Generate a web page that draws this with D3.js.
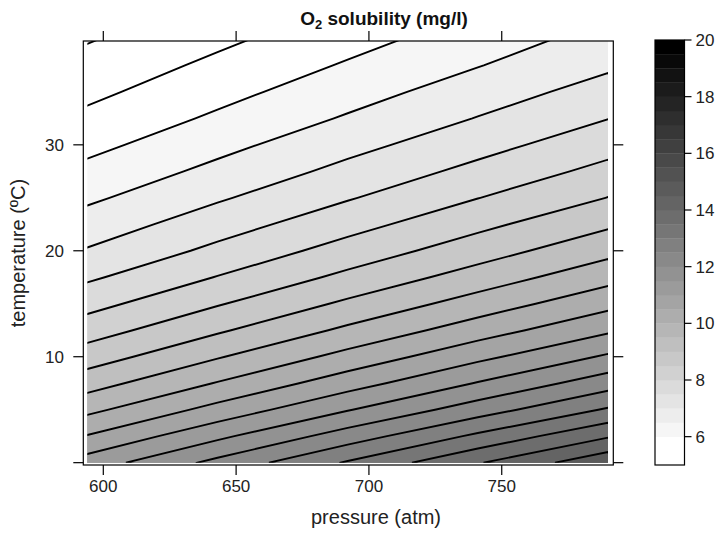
<!DOCTYPE html>
<html><head><meta charset="utf-8">
<script src="https://cdn.jsdelivr.net/npm/d3@7"></script>
<style>
body{margin:0;background:#fff}
svg{display:block}
text{font-family:"Liberation Sans",Arial,Helvetica,sans-serif}
</style>
</head><body>
<svg id="chart" width="722" height="542"></svg>
<script>
// ---- data ----
const pressures = [594, 643, 692, 741, 790];                 // atm (grid columns)
const temperatures = [0, 2.5, 5, 7.5, 10, 12.5, 15, 17.5, 20,
                      22.5, 25, 27.5, 30, 32.5, 35, 37.5, 40]; // ºC (grid rows)
// O2 solubility (mg/l): one row per temperature, one value per pressure
const solubility = [
  [11.23, 12.14, 13.05, 13.96, 14.87],
  [10.53, 11.39, 12.24, 13.10, 13.95],
  [ 9.87, 10.67, 11.47, 12.26, 13.06],
  [ 9.29, 10.03, 10.78, 11.53, 12.28],
  [ 8.75,  9.46, 10.16, 10.87, 11.57],
  [ 8.27,  8.93,  9.60, 10.26, 10.92],
  [ 7.83,  8.46,  9.09,  9.72, 10.35],
  [ 7.42,  8.02,  8.62,  9.22,  9.83],
  [ 7.04,  7.62,  8.20,  8.77,  9.35],
  [ 6.72,  7.27,  7.82,  8.37,  8.92],
  [ 6.41,  6.94,  7.46,  7.99,  8.51],
  [ 6.13,  6.63,  7.14,  7.64,  8.15],
  [ 5.86,  6.35,  6.84,  7.32,  7.81],
  [ 5.61,  6.08,  6.55,  7.02,  7.49],
  [ 5.38,  5.84,  6.29,  6.75,  7.20],
  [ 5.17,  5.61,  6.05,  6.48,  6.92],
  [ 4.96,  5.39,  5.82,  6.25,  6.68]
];
const levels = [5,5.5,6,6.5,7,7.5,8,8.5,9,9.5,10,10.5,11,11.5,12,12.5,13,13.5,14,14.5,15,15.5,16,16.5,17,17.5,18,18.5,19,19.5,20];
const xTicks = [600, 650, 700, 750];
const yTicks = [0, 10, 20, 30];
const yTickLabels = ["", "10", "20", "30"];
const colorTicks = [6, 8, 10, 12, 14, 16, 18, 20];
const titleMain = "O", titleSub = "2", titleRest = " solubility (mg/l)";
const xLabel = "pressure (atm)";
const yLabel = "temperature (ºC)";

// ---- layout ----
const svg = d3.select("#chart");
const P = {left: 83.3, right: 613.3, top: 41, bottom: 465};
const x = d3.scaleLinear().domain([592.47, 792.0]).range([P.left, P.right]);
const y = d3.scaleLinear().domain([-0.22, 39.8]).range([P.bottom, P.top]);

const nBands = levels.length - 1;
function bandColor(i){
  const t = Math.max(0, i - 1) / (nBands - 2);
  const v = Math.round(255 * (1 - Math.min(1, t)));
  return d3.rgb(v, v, v).toString();
}

// grid -> data coordinates (d3.contours puts sample i at i + 0.5)
const nx = pressures.length, ny = temperatures.length;
const gx = d3.scaleLinear().domain([0.5, nx - 0.5]).range([pressures[0], pressures[nx-1]]);
const gy = d3.scaleLinear().domain([0.5, ny - 0.5]).range([temperatures[0], temperatures[ny-1]]);
const proj = d3.geoTransform({point(a, b){ this.stream.point(x(gx(a)), y(gy(b))); }});
const path = d3.geoPath(proj);

const values = solubility.flat();
const contours = d3.contours().size([nx, ny]).thresholds(levels)(values);

// clip to data extent inside panel
const cx0 = x(pressures[0]), cx1 = x(pressures[nx-1]);
const cyTop = Math.max(y(temperatures[ny-1]), P.top), cyBot = Math.min(y(temperatures[0]), P.bottom);
svg.append("clipPath").attr("id","clip").append("rect")
  .attr("x", cx0).attr("y", cyTop).attr("width", cx1 - cx0).attr("height", cyBot - cyTop);

const plot = svg.append("g").attr("clip-path","url(#clip)");
plot.append("rect").attr("x", cx0).attr("y", cyTop).attr("width", cx1 - cx0).attr("height", cyBot - cyTop).attr("fill","#fff");
plot.selectAll("path.band").data(contours).join("path")
  .attr("class","band")
  .attr("d", path)
  .attr("fill", (d,i) => bandColor(i))
  .attr("stroke", "none");
plot.selectAll("path.iso").data(contours.filter(c => c.coordinates.length > 0)).join("path")
  .attr("class","iso")
  .attr("d", path)
  .attr("fill", "none")
  .attr("stroke", "#000")
  .attr("stroke-width", 1.9);

// panel border
svg.append("rect").attr("x", P.left).attr("y", P.top)
  .attr("width", P.right - P.left).attr("height", P.bottom - P.top)
  .attr("fill","none").attr("stroke","#000").attr("stroke-width",1.2);

const tickLen = 10;
const axisG = svg.append("g").attr("stroke","#000").attr("stroke-width",1.2);
xTicks.forEach(v => {
  axisG.append("line").attr("x1", x(v)).attr("x2", x(v)).attr("y1", P.bottom).attr("y2", P.bottom + tickLen);
  axisG.append("line").attr("x1", x(v)).attr("x2", x(v)).attr("y1", P.top).attr("y2", P.top - tickLen);
});
yTicks.forEach(v => {
  axisG.append("line").attr("y1", y(v)).attr("y2", y(v)).attr("x1", P.left).attr("x2", P.left - tickLen);
  axisG.append("line").attr("y1", y(v)).attr("y2", y(v)).attr("x1", P.right).attr("x2", P.right + tickLen);
});
svg.append("g").selectAll("text").data(xTicks).join("text")
  .attr("x", d => x(d)).attr("y", 492).attr("text-anchor","middle")
  .attr("font-size", 17).attr("fill","#222").text(d => d);
svg.append("g").selectAll("text").data(yTicks).join("text")
  .attr("x", 64).attr("y", d => y(d)).attr("dy","0.35em").attr("text-anchor","end")
  .attr("font-size", 17).attr("fill","#222").text((d,i) => yTickLabels[i]);

// titles
const t = svg.append("text").attr("x", 384).attr("y", 25)
  .attr("text-anchor","middle").attr("font-size", 19).attr("font-weight","bold").attr("fill","#111");
t.append("tspan").text(titleMain);
t.append("tspan").attr("font-size", 13).attr("dy", 4).text(titleSub);
t.append("tspan").attr("dy", -4).text(titleRest);
svg.append("text").attr("x", 376).attr("y", 524).attr("text-anchor","middle")
  .attr("font-size", 20).attr("fill","#222").text(xLabel);
svg.append("text").attr("transform", `translate(25,${(P.top+P.bottom)/2}) rotate(-90)`)
  .attr("text-anchor","middle").attr("font-size", 20).attr("fill","#222").text(yLabel);

// colour key
const K = {left: 655, right: 684.5};
const ck = d3.scaleLinear().domain([levels[0], levels[levels.length-1]]).range([P.bottom, 40]);
const key = svg.append("g");
key.selectAll("rect").data(d3.range(nBands)).join("rect")
  .attr("x", K.left).attr("width", K.right - K.left)
  .attr("y", i => ck(levels[i+1])).attr("height", i => ck(levels[i]) - ck(levels[i+1]) + 0.3)
  .attr("fill", i => bandColor(i));
key.append("rect").attr("x", K.left).attr("y", ck(levels[levels.length-1]))
  .attr("width", K.right - K.left).attr("height", ck(levels[0]) - ck(levels[levels.length-1]))
  .attr("fill","none").attr("stroke","#000").attr("stroke-width",1.2);
colorTicks.forEach(v => {
  key.append("line").attr("x1", K.right).attr("x2", K.right + 7).attr("y1", ck(v)).attr("y2", ck(v))
    .attr("stroke","#000").attr("stroke-width",1.2);
  key.append("text").attr("x", K.right + 11).attr("y", ck(v)).attr("dy","0.35em")
    .attr("font-size", 17).attr("fill","#222").text(v);
});
</script>
</body></html>
